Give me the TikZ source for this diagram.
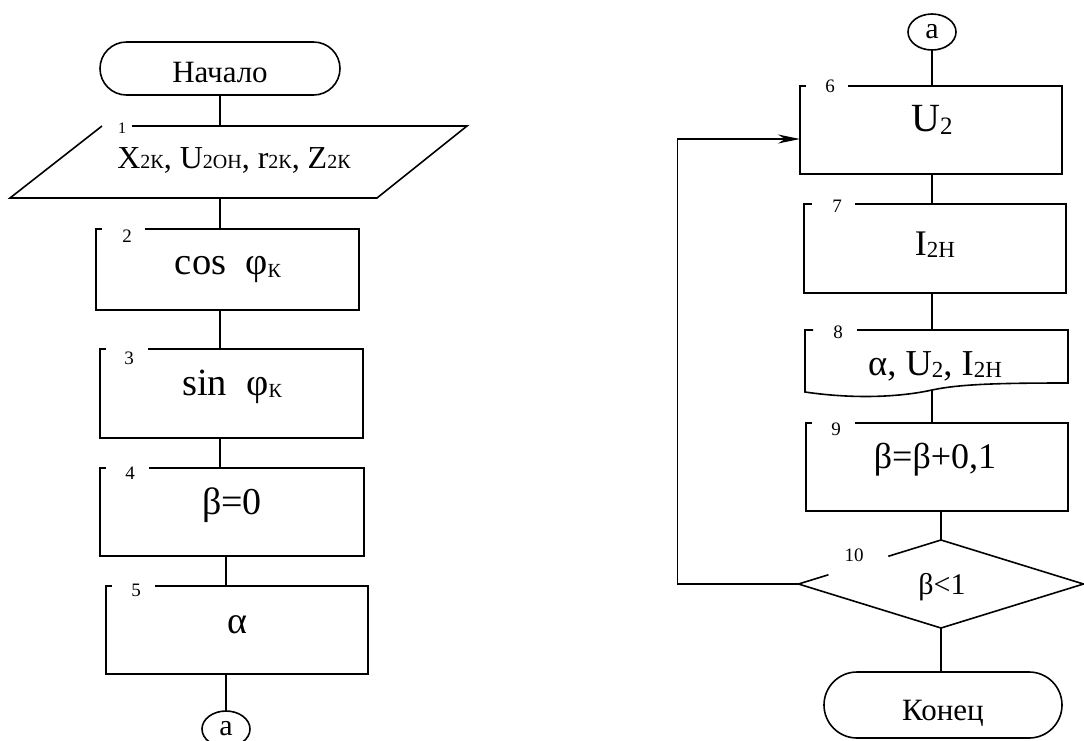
\documentclass[tikz,border=0pt]{standalone}
\usepackage{fontspec}
\setmainfont{Liberation Serif}
\usetikzlibrary{shapes.geometric,shapes.misc,arrows.meta,calc}

% font size in pt
\newcommand\fs[1]{\fontsize{#1pt}{#1pt}\selectfont}
% smaller index text, slightly lowered
\newcommand\ix[2]{\raisebox{-0.06em}{\fs{#1}#2}}
% process box outline with a gap in the top edge for the block number
% #1 node, #2 stub length, #3 offset of the gap end from the west side
\newcommand\gapbox[3]{\draw ([xshift=#3pt]#1.north west) -| (#1.south east) -| (#1.north west) -- ++(#2,0);}

\begin{document}
\begin{tikzpicture}[x=1pt,y=-1pt,
  line width=1.6pt, line join=miter,
  box/.style={rectangle, inner sep=0pt, outer sep=0pt},
  term/.style={rounded rectangle, draw, inner sep=0pt, outer sep=0pt, font=\fs{31}},
  conn/.style={ellipse, draw, inner sep=0pt, outer sep=0pt,
               minimum width=48pt, minimum height=36pt, font=\fs{30}},
  num/.style={inner sep=0pt, font=\fs{19}},
  txt/.style={inner sep=0pt},
  back/.style={-{Stealth[length=22pt,width=9pt,inset=7pt]}}
]
\useasboundingbox (0,0) rectangle (1084,740);

% ---------- left column ----------
\node[term, minimum width=240pt, minimum height=53pt, text height=28pt, text depth=0pt]
  (start) at (220,68.5) {Начало};

\node[box, minimum width=365pt, minimum height=72pt] (p1) at (238.5,162) {};
\draw (132,126) -- (467,126) -- (377,198) -- (10,198) -- (102,126);
\node[num, font=\fs{16}] (n1) at (122,128) {1};
\node[txt, font=\fs{32}] (t1) at (234,160)
  {X{\fs{20}2К}, U{\fs{20}2ОН}, r{\fs{20}2К}, Z{\fs{20}2К}};

\node[box, minimum width=263pt, minimum height=81pt] (b2) at (227.5,269.5) {};
\gapbox{b2}{6}{49}
\node[num] (n2) at (127,236) {2};
\node[txt, font=\fs{38.5}] (t2) at (228,270) {cos\ \ φ\ix{20}{К}};

\node[box, minimum width=263pt, minimum height=89pt] (b3) at (231.5,393.5) {};
\gapbox{b3}{6}{48}
\node[num] (n3) at (129,358) {3};
\node[txt, font=\fs{38.5}] (t3) at (232,387) {sin\ \ φ\ix{20}{К}};

\node[box, minimum width=264pt, minimum height=88pt] (b4) at (232,512) {};
\gapbox{b4}{6}{49}
\node[num] (n4) at (130,473) {4};
\node[txt, font=\fs{38}] (t4) at (232,505) {β=0};

\node[box, minimum width=262pt, minimum height=88pt] (b5) at (237,630) {};
\gapbox{b5}{6}{49}
\node[num] (n5) at (136,590) {5};
\node[txt, font=\fs{38}] (t5) at (237,625) {α};

\node[conn] (c1) at (226,729) {a};

\draw (start.south) -- (start.south |- p1.north);
\draw (start.south |- p1.south) -- (start.south |- b2.north);
\draw (start.south |- b2.south) -- (start.south |- b3.north);
\draw (start.south |- b3.south) -- (start.south |- b4.north);
\draw (c1.north |- b4.south) -- (c1.north |- b5.north);
\draw (c1.north |- b5.south) -- (c1.north);

% ---------- right column ----------
\node[conn] (c2) at (932,32) {a};

\node[box, minimum width=262pt, minimum height=88pt] (b6) at (931,130) {};
\gapbox{b6}{6}{48}
\node[num] (n6) at (830,86) {6};
\node[txt, font=\fs{40}] (t6) at (932,120) {U\ix{25}{2}};

\node[box, minimum width=262pt, minimum height=89pt] (b7) at (935,248.5) {};
\gapbox{b7}{8}{51}
\node[num] (n7) at (837,206) {7};
\node[txt, font=\fs{36}] (t7) at (935,245) {I\ix{23}{2Н}};

% output (document) block with a wavy lower edge
\node[box, minimum width=263pt, minimum height=60pt] (b8) at (936.5,360) {};
\draw ([xshift=52pt]b8.north west) -- (b8.north east) -- (1068,383)
  .. controls (1000,383) and (960,384) .. (932,390)
  .. controls (905,396) and (860,400) .. (805,392)
  -- (b8.north west) -- ++(8,0);
\node[num] (n8) at (838,332) {8};
\node[txt, font=\fs{36.5}] (t8) at (935,366) {α, U\ix{23}{2}, I\ix{23}{2Н}};

\node[box, minimum width=262pt, minimum height=88pt] (b9) at (937,467) {};
\gapbox{b9}{6}{49}
\node[num] (n9) at (836,429) {9};
\node[txt, font=\fs{36}] (t9) at (935,460) {β=β+0,1};

\node[diamond, inner sep=0pt, outer sep=0pt, minimum width=285pt, minimum height=88pt] (d10) at (941,584) {};
\draw ($(d10.west)!0.63!(d10.north)$) -- (d10.north) -- (d10.east) -- (d10.south)
  -- (d10.west) -- ($(d10.west)!0.21!(d10.north)$);
\node[num, font=\fs{19}] (n10) at (854,555) {10};
\node[txt, font=\fs{30}] (t10) at (942,587) {β<1};

\node[term, minimum width=238pt, minimum height=66pt, text height=31pt, text depth=0pt]
  (end) at (943,705) {Конец};

\draw (c2.south) -- (c2.south |- b6.north);
\draw (c2.south |- b6.south) -- (c2.south |- b7.north);
\draw (c2.south |- b7.south) -- (c2.south |- b8.north);
\draw (c2.south |- b8.south) -- (c2.south |- b9.north);
\draw (d10.north |- b9.south) -- (d10.north);
\draw (d10.south) -- (d10.south |- end.north);

% loop back from the decision to block 6
\draw[back] (d10.west) -- ++(-121,0) |- ([yshift=-9pt]b6.west);
\end{tikzpicture}
\end{document}
